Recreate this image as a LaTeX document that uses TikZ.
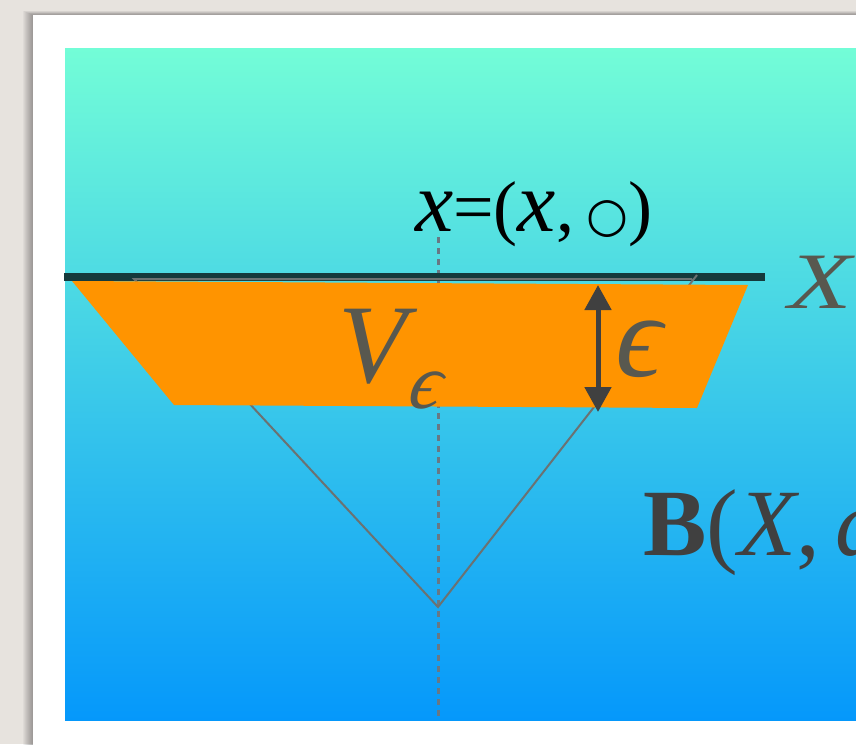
\documentclass[tikz,border=0pt]{standalone}
\usepackage{fontspec}
\setmainfont{Liberation Serif}
\newfontfamily\ringfont{DejaVu Sans}
\newfontfamily\epsfont[FakeSlant=0.2]{Liberation Serif}
\usetikzlibrary{arrows.meta}
\definecolor{paper}{HTML}{E7E3DE}
\definecolor{seatop}{HTML}{73FDD7}
\definecolor{seabottom}{HTML}{0598FB}
\definecolor{slab}{HTML}{FF9400}
\definecolor{axisline}{HTML}{153A3C}
\definecolor{conegray}{HTML}{6B7272}
\definecolor{dashgray}{HTML}{687884}
\definecolor{labelgray}{HTML}{58584F}
\definecolor{arrowgray}{HTML}{404040}

\begin{document}
\begin{tikzpicture}[x=1pt,y=-1pt,
    lbl/.style={inner sep=0pt,anchor=base west,text=labelgray},
    cone/.style={draw=conegray,line width=2pt},
    epsarrow/.style={draw=arrowgray,line width=5pt,
      {Triangle[length=25pt,width=26pt]}-{Triangle[length=25pt,width=26pt]}}]
  \useasboundingbox (0,0) rectangle (856,744);
  \clip (0,0) rectangle (856,744);
  \fill[paper] (0,0) rectangle (856,744);
  \foreach \s in {1,...,10}
    \fill[black,opacity=0.035] (33-\s,15-0.4*\s) rectangle (880,760);
  \fill[white] (33,15) rectangle (880,760);
  \shade[top color=seatop,bottom color=seabottom] (65,48) rectangle (880,720);

  \coordinate (xtop) at (438,237);
  \coordinate (xbot) at (438,718);
  \draw[dashgray,line width=3pt,dash pattern=on 6pt off 5pt] (xtop) -- (xbot);

  \coordinate (Xl) at (64,277);
  \coordinate (Xr) at (765,277);
  \draw[axisline,line width=8pt] (Xl) -- (Xr);

  \coordinate (apex) at (438,607);
  \coordinate (cl) at (134,279);
  \coordinate (cm) at (692,279);
  \coordinate (cr) at (697,275);
  \draw[cone] (cr) -- (apex) -- (cl) -- (cm);

  \fill[slab] (72,281) -- (748,285) -- (697,408) -- (174,405) -- cycle;

  \coordinate (etop) at (598,285);
  \coordinate (ebot) at (598,412);
  \draw[epsarrow] (etop) -- (ebot);

  \node[lbl,text=black,font=\fontsize{72}{80}\selectfont] (pt) at (415,231)
    {{\fontsize{86}{86}\selectfont\itshape x}=({\fontsize{86}{86}\selectfont\itshape x},\,{\ringfont\fontsize{48}{48}\selectfont ○})};
  \node[lbl,font=\fontsize{80}{90}\selectfont\itshape] (Xlab) at (788,308) {\scalebox{1.3}[1]{X}};
  \node[lbl,font=\fontsize{112}{120}\selectfont\itshape] (Vlab) at (338,382)
    {V\raisebox{-26pt}{\epsfont\fontsize{78}{80}\selectfont ϵ}};
  \node[lbl,font=\fontsize{118}{120}\selectfont\epsfont] (eps) at (610,376) {ϵ};
  \node[lbl,text=arrowgray,font=\fontsize{95}{100}\selectfont] (ball) at (643,555)
    {\textbf{B}(\textit{X},\,\textit{d}};
\end{tikzpicture}
\end{document}
